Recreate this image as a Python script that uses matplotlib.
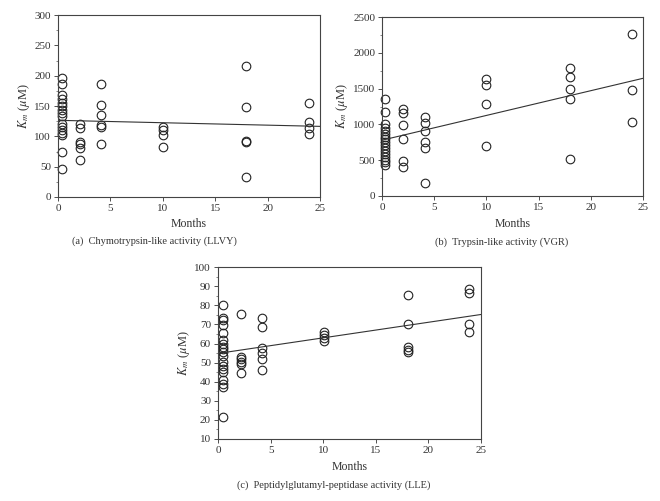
import numpy as np
import matplotlib
matplotlib.use('Agg')
import matplotlib.pyplot as plt
from matplotlib.ticker import MultipleLocator

plt.rcParams['font.family'] = ['Liberation Serif', 'DejaVu Serif']
plt.rcParams['mathtext.fontset'] = 'stix'

# months at which samples were taken (slightly different per panel)
months_a = [0.35, 2.1, 4.1, 10.0, 17.9, 23.9]
months_b = [0.25, 2.0, 4.1, 10.0, 18.0, 23.9]
months_c = [0.5, 2.2, 4.2, 10.1, 18.1, 23.9]

# Km values, one list per month
km_a = [
    [197, 186, 168, 162, 155, 150, 143, 138, 133, 120, 115, 110, 106, 102, 74, 47],
    [120, 114, 91, 88, 80, 61],
    [187, 151, 136, 118, 116, 88],
    [116, 110, 102, 83],
    [216, 149, 93, 91, 33],
    [155, 124, 114, 104],
]
km_b = [
    [1350, 1180, 1010, 950, 910, 870, 830, 790, 750, 710, 670, 630, 590, 550, 500, 470, 440],
    [1215, 1160, 995, 790, 485, 400],
    [1100, 1015, 910, 755, 675, 185],
    [1635, 1555, 1285, 695],
    [1785, 1670, 1490, 1350, 520],
    [2262, 1485, 1030],
]
km_c = [
    [80.3, 73.5, 72.3, 69.5, 65.3, 62, 59.5, 58.3, 57, 55.5, 53.5, 50.5, 48, 46.5, 45, 41, 39, 37, 21.7],
    [75.5, 53, 51.8, 50.5, 49.3, 44.3],
    [73.4, 68.6, 57.7, 54.9, 52, 46],
    [66, 64.3, 62.7, 61.2],
    [85.6, 70.4, 58.2, 56.5, 55.6],
    [88.7, 86.4, 70.4, 66.2],
]

# regression lines: value at 0 and 25 months
fit_a = [126.5, 116.5]
fit_b = [780, 1645]
fit_c = [54.8, 75.2]

captions = ['(a)  Chymotrypsin-like activity (LLVY)',
            '(b)  Trypsin-like activity (VGR)',
            '(c)  Peptidylglutamyl-peptidase activity (LLE)']

fig = plt.figure(figsize=(6.6, 5.01), dpi=100)

# axes box, caption x (px), caption y, "Months" y
panels = [
    (months_a, km_a, fit_a, (0, 300), 50, [0.0879, 0.6068, 0.397, 0.363], 154, 0.519, 0.553),
    (months_b, km_b, fit_b, (0, 2500), 500, [0.5788, 0.6088, 0.3955, 0.357], 502, 0.517, 0.553),
    (months_c, km_c, fit_c, (10, 100), 10, [0.3303, 0.1238, 0.3985, 0.343], 334, 0.031, 0.0685),
]

for i, (months, km, fit, ylim, ystep, pos, capx, capy, laby) in enumerate(panels):
    ax = fig.add_axes(pos)
    for m, vals in zip(months, km):
        ax.plot([m] * len(vals), vals, 'o', mfc='none', mec='#222222',
                mew=0.8, ms=6.2, clip_on=False)
    ax.plot([0, 25], fit, color='#333333', lw=0.8)
    ax.set_xlim(0, 25)
    ax.set_ylim(*ylim)
    ax.xaxis.set_major_locator(MultipleLocator(5))
    ax.yaxis.set_major_locator(MultipleLocator(ystep))
    ax.yaxis.set_minor_locator(MultipleLocator(ystep / 2))
    ax.tick_params(direction='out', length=3, width=0.6, labelsize=8,
                   colors='#333333', labelcolor='#333333', pad=2)
    ax.tick_params(axis='y', which='minor', direction='out', length=1.8,
                   width=0.5, colors='#555555')
    for s in ax.spines.values():
        s.set_linewidth(0.8)
        s.set_color('#444444')
    ax.set_ylabel(r'$K_m$ ($\mu$M)', fontsize=9, color='#333333', labelpad=2)
    fig.text(pos[0] + pos[2] / 2, laby, 'Months', ha='center', va='center',
             fontsize=8.5, color='#333333')
    fig.text(capx / 660, capy, captions[i], ha='center', va='center',
             fontsize=7.5, color='#333333')

fig.savefig('out.png', dpi=100)
